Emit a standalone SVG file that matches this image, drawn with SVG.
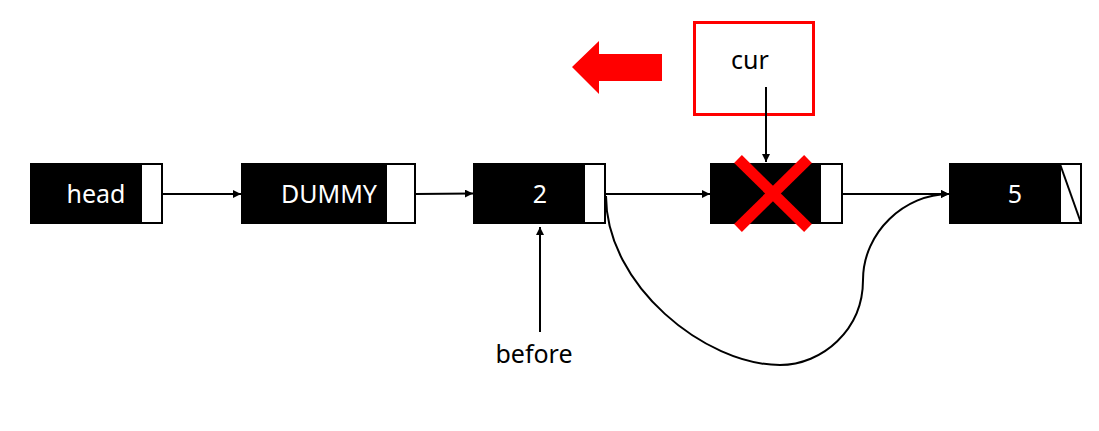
<svg xmlns="http://www.w3.org/2000/svg" width="1099" height="431" viewBox="0 0 1099 431">
<defs>
<style>
.blk{fill:#000;stroke:#000;stroke-width:2}
.wht{fill:#fff;stroke:#000;stroke-width:2}
.lbl{font-family:"Noto Sans","Open Sans",sans-serif;font-size:25px;text-anchor:middle}
.w{fill:#fff}
.k{fill:#000}
.con{stroke:#000;stroke-width:2;fill:none}
</style>
<marker id="ah" viewBox="0 0 10 10" refX="10" refY="5" markerWidth="4" markerHeight="4" orient="auto" markerUnits="strokeWidth">
<path d="M0,0 L10,5 L0,10 z" fill="#000"/>
</marker>
</defs>
<rect width="1099" height="431" fill="#fff"/>
<g id="node-head">
<rect class="blk" x="31" y="164" width="110" height="59"/>
<rect class="wht" x="141" y="164" width="21" height="59"/>
<text class="lbl w" x="96" y="203">head</text>
</g>
<g id="node-dummy">
<rect class="blk" x="242" y="164" width="144" height="59"/>
<rect class="wht" x="386" y="164" width="29" height="59"/>
<text class="lbl w" x="329" y="203">DUMMY</text>
</g>
<g id="node-2">
<rect class="blk" x="474" y="164" width="110" height="59"/>
<rect class="wht" x="584" y="164" width="21" height="59"/>
<text class="lbl w" x="540" y="203">2</text>
</g>
<g id="node-cur-target">
<rect class="blk" x="711" y="164" width="109" height="59"/>
<rect class="wht" x="820" y="164" width="22" height="59"/>
</g>
<g id="node-5">
<rect class="blk" x="950" y="164" width="110" height="59"/>
<rect class="wht" x="1060" y="164" width="21" height="59"/>
<line x1="1060" y1="164" x2="1081" y2="223" stroke="#000" stroke-width="2"/>
<text class="lbl w" x="1015" y="203">5</text>
</g>
<g id="node-cur">
<rect x="694.5" y="22.5" width="119" height="92" fill="#fff" stroke="#f00" stroke-width="3"/>
<text class="lbl k" x="750" y="69">cur</text>
</g>
<g id="label-before">
<text class="lbl k" x="534" y="363">before</text>
</g>
<g id="connectors">
<line class="con" x1="162" y1="194" x2="241" y2="194" marker-end="url(#ah)"/>
<line class="con" x1="415" y1="194" x2="473" y2="193.5" marker-end="url(#ah)"/>
<line class="con" x1="605" y1="194" x2="710" y2="194" marker-end="url(#ah)"/>
<line class="con" x1="842" y1="194" x2="949" y2="194" marker-end="url(#ah)"/>
<line class="con" x1="766" y1="87" x2="766" y2="162" marker-end="url(#ah)"/>
<line class="con" x1="540" y1="332" x2="540" y2="227" marker-end="url(#ah)"/>
<path class="con" d="M606,196 C606,285 705,365 780,365 C822,365 863,330 863,280 C863,232 905,194 949,194" marker-end="url(#ah)"/>
</g>
<g id="red-x">
<line x1="738" y1="159" x2="808" y2="228" stroke="#f00" stroke-width="11"/>
<line x1="808" y1="159" x2="738" y2="228" stroke="#f00" stroke-width="11"/>
</g>
<g id="red-arrow">
<polygon points="572,67 599,41 599,54 662,54 662,81 599,81 599,94" fill="#f00"/>
</g>
</svg>
